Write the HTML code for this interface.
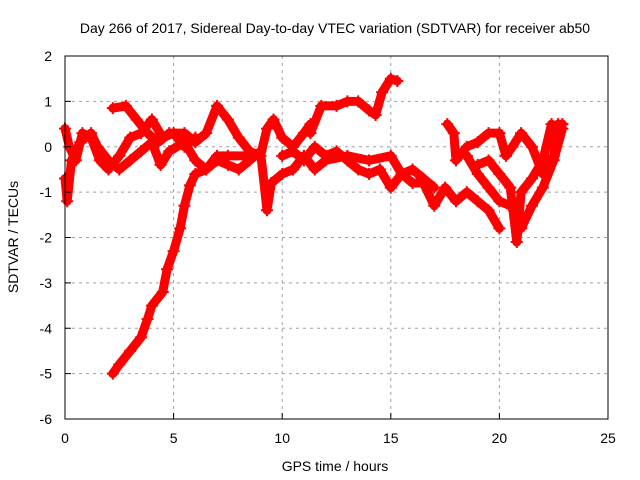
<!DOCTYPE html>
<html><head><meta charset="utf-8"><style>
body{margin:0;background:#fff}
svg{display:block;font-family:"Liberation Sans",sans-serif}
</style></head><body>
<svg id="chart" width="640" height="480">
<g id="grid"></g>
<g id="series"></g>
<rect x="65" y="56" width="543" height="363" fill="none" stroke="#000" stroke-width="1"/>
<g id="ticks"></g>
<text x="335" y="33" text-anchor="middle" font-size="14">Day 266 of 2017, Sidereal Day-to-day VTEC variation (SDTVAR) for receiver ab50</text>
<text x="335" y="471" text-anchor="middle" font-size="14">GPS time / hours</text>
<text transform="translate(18,237) rotate(-90)" text-anchor="middle" font-size="14">SDTVAR / TECUs</text>
</svg>
<script>
const xTicks=[0,5,10,15,20,25];
const yTicks=[2,1,0,-1,-2,-3,-4,-5,-6];
const trackRise=[[2.2,-5.0],[2.5,-4.8],[3.0,-4.5],[3.5,-4.2],[3.8,-3.8],[4.0,-3.5],[4.5,-3.2],[4.7,-2.7],[5.0,-2.3],[5.3,-1.8],[5.5,-1.3],[5.75,-0.85],[6.0,-0.6],[6.5,-0.5],[7,-0.3],[7.5,-0.4],[8,-0.5],[8.5,-0.3],[9,-0.1],[9.3,-1.4],[9.5,-0.8],[10,-0.6],[10.5,-0.5],[11,-0.2],[11.5,-0.5],[12,-0.3],[13,-0.2],[14,-0.3],[15,-0.2],[15.5,-0.6],[16,-0.8],[16.5,-0.8],[17,-1.3],[17.5,-0.9],[18,-1.2],[18.5,-1.0],[19,-1.2],[19.5,-1.4],[20,-1.8]];
const trackTop=[[2.2,0.85],[2.8,0.9],[3.3,0.6],[3.8,0.3],[4.3,0.1],[4.8,0.3],[5.5,0.3],[6.0,0.1],[6.5,0.3],[7.0,0.9],[7.5,0.6],[8.0,0.2],[8.5,-0.1],[9.0,-0.2],[9.3,0.4],[9.6,0.6],[10,0.2],[10.5,0.0],[11,0.3],[11.3,0.5]];
const trackA=[[0,0.4],[0.2,0.0],[0.5,-0.3],[0.8,0.3],[1.2,0.2],[1.6,-0.3],[2.0,-0.5],[2.5,-0.2],[3.0,0.2],[3.5,0.3],[4.0,0.6],[4.5,0.2],[5,0.3],[5.5,0.0],[6,0.2]];
const trackB=[[0,-0.7],[0.1,-1.2],[0.3,-0.3],[0.7,0.1],[1.2,0.3],[1.5,0.0],[2.0,-0.3],[2.5,-0.5],[3.0,-0.3],[3.5,-0.1],[4.0,0.1],[4.4,-0.4],[4.8,-0.1],[5.5,0.1],[6,-0.3],[6.5,-0.5],[7,-0.2],[7.5,-0.2],[8.3,-0.2]];
const trackHigh=[[11.3,0.3],[11.8,0.9],[12.5,0.9],[13,1.0],[13.5,1.0],[14,0.8],[14.3,0.7],[14.6,1.2],[15,1.5],[15.3,1.45]];
const trackMid=[[10,-0.2],[10.5,-0.1],[11,-0.3],[11.5,0.0],[12,-0.2],[12.5,-0.1],[13,-0.3],[13.5,-0.5],[14,-0.6],[14.5,-0.5],[15,-0.9],[15.5,-0.6],[16,-0.5],[16.5,-0.7],[17,-0.9]];
const trackR1=[[17.6,0.5],[17.9,0.3],[18,-0.3],[18.5,0.0],[19,0.1],[19.5,0.3],[20,0.3],[20.3,-0.2],[20.6,0.0],[21,0.3],[21.5,0.0],[22,-0.6],[22.5,-0.2],[22.7,0.5],[22.9,0.5]];
const trackR2=[[18.5,-0.2],[19,-0.6],[19.5,-0.9],[20,-1.2],[20.5,-1.3],[20.8,-1.5],[21,-1.8],[21.5,-1.3],[22,-0.9],[22.5,-0.3],[22.9,0.4]];
const trackR3=[[19,-0.4],[19.5,-0.3],[20,-0.6],[20.5,-0.9],[20.8,-2.1],[21,-1.0],[21.5,-0.7],[22,-0.3],[22.4,0.5]];
const tracks=[trackRise,trackTop,trackA,trackB,trackHigh,trackMid,trackR1,trackR2,trackR3];
const NS='http://www.w3.org/2000/svg';
const X=h=>65+h*(543/25);
const Y=v=>56+(2-v)*(363/8);
const grid=document.getElementById('grid'),ticks=document.getElementById('ticks'),ser=document.getElementById('series');
function mk(t,a,p){const e=document.createElementNS(NS,t);for(const k in a)e.setAttribute(k,a[k]);p.appendChild(e);return e;}
xTicks.forEach(t=>{
 if(t>0&&t<25){const g=mk('line',{x1:X(t),x2:X(t),y1:56,y2:419,stroke:'#a0a0a0','stroke-dasharray':'3,4'},grid);
 
 }
 const tl=mk('text',{x:X(t),y:443,'text-anchor':'middle','font-size':14},ticks);tl.textContent=t;
 
 
 mk('line',{x1:X(t),x2:X(t),y1:419,y2:413,stroke:'#000'},ticks);
});
yTicks.forEach(t=>{
 if(t<2&&t>-6){const g=mk('line',{x1:65,x2:608,y1:Y(t),y2:Y(t),stroke:'#a0a0a0','stroke-dasharray':'3,4'},grid);
 
 }
 const tl=mk('text',{x:52,y:Y(t)+5,'text-anchor':'end','font-size':14},ticks);tl.textContent=t;
 
 
 mk('line',{x1:65,x2:71,y1:Y(t),y2:Y(t),stroke:'#000'},ticks);
});
tracks.forEach(tr=>{
 const pl=mk('polyline',{points:tr.map(p=>X(p[0])+','+Y(p[1])).join(' '),fill:'none',stroke:'#f00','stroke-width':9,'stroke-linejoin':'round','stroke-linecap':'round'},ser);
 
 
 tr.forEach(p=>{
  const m=mk('path',{d:`M${X(p[0])-6},${Y(p[1])}h12M${X(p[0])},${Y(p[1])-6}v12`,stroke:'#f00','stroke-width':2},ser);
  
  
 });
});
</script>
</body></html>
